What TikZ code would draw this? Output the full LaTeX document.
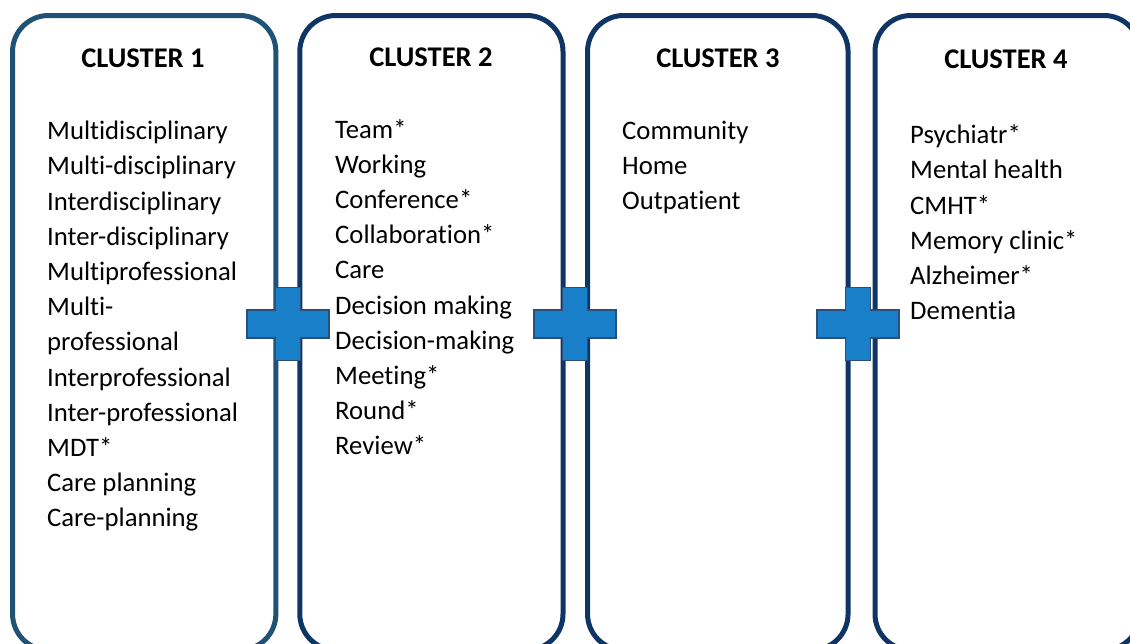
\documentclass[tikz,border=0pt]{standalone}
\usepackage{fontspec}
\setmainfont[Ligatures=NoCommon]{Carlito}
\usetikzlibrary{positioning}

\definecolor{boxedgeA}{HTML}{1F5274}
\definecolor{boxedgeB}{HTML}{0E3563}
\definecolor{plusfill}{HTML}{1A7FC9}
\definecolor{plusedge}{HTML}{2B4F78}

\begin{document}
\begin{tikzpicture}
[x=1pt,y=-1pt,
cluster/.style={rectangle,rounded corners=36pt,draw=boxedgeB,line width=5pt,minimum height=634.5pt},
firstcluster/.style={cluster,draw=boxedgeA},
heading/.style={font=\fontsize{28.5}{34}\selectfont\bfseries,inner sep=0pt},
terms/.style={font=\fontsize{26.7}{35.2}\selectfont,align=left,anchor=north west,inner sep=0pt},
plus/.style={fill=plusfill,draw=plusedge,line width=1.6pt,line join=miter}]
\useasboundingbox (0,0) rectangle (1130,643);

% the four boxes, run off the bottom edge
\node[firstcluster,minimum width=263.3pt] (box1) at (144.2,332.75) {};
\node[cluster,minimum width=263.2pt] (box2) at (431.4,332.75) {};
\node[cluster,minimum width=260.5pt] (box3) at (717.8,332.75) {};
\node[cluster,minimum width=265pt] (box4) at (1007.5,332.75) {};

% headings
\node[heading] (head1) at (143,58) {CLUSTER 1};
\node[heading] (head2) at (431,57) {CLUSTER 2};
\node[heading] (head3) at (718,58) {CLUSTER 3};
\node[heading] (head4) at (1006,59) {CLUSTER 4};

% search terms
\node[terms] (terms1) at (47,121) {Multidisciplinary\\Multi-disciplinary\\Interdisciplinary\\
  Inter-disciplinary\\Multiprofessional\\Multi-\\professional\\Interprofessional\\
  Inter-professional\\MDT*\\Care planning\\Care-planning};
\node[terms] (terms2) at (335,119) {Team*\\Working\\Conference*\\Collaboration*\\Care\\
  Decision making\\Decision-making\\Meeting*\\Round*\\Review*};
\node[terms] (terms3) at (622,121) {Community\\Home\\Outpatient};
\node[terms] (terms4) at (910,124.5) {Psychiatr*\\Mental health\\CMHT*\\Memory clinic*\\
  Alzheimer*\\Dementia};

% plus signs between the boxes
\foreach \px in {288,575,858}
  \draw[plus] (\px,324) ++(-12.5,-36.5) -- ++(25,0) -- ++(0,22.5) -- ++(28.5,0)
    -- ++(0,28) -- ++(-28.5,0) -- ++(0,22.5) -- ++(-25,0) -- ++(0,-22.5)
    -- ++(-28.5,0) -- ++(0,-28) -- ++(28.5,0) -- cycle;
\end{tikzpicture}
\end{document}
